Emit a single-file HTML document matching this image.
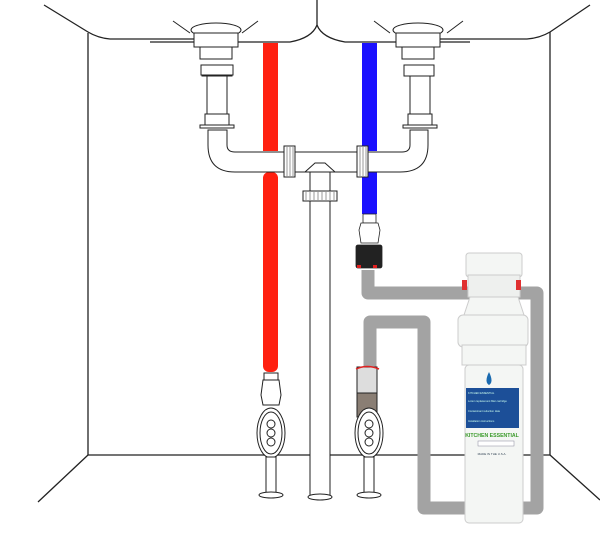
<!DOCTYPE html>
<html><head><meta charset="utf-8"><style>
html,body{margin:0;padding:0;background:#fff;}
svg{display:block;}
</style></head><body>
<svg width="600" height="553" viewBox="0 0 600 553" xmlns="http://www.w3.org/2000/svg" font-family="Liberation Sans, sans-serif">
<g fill="none" stroke="#222" stroke-width="1.3">
  <!-- cabinet -->
  <path d="M44,5 L88,32 Q98,38 110,39 L200,39"/>
  <path d="M88,33 L88,455 L550,455 L550,32"/>
  <path d="M590,5 L550,32 Q540,38 527,39 L440,39"/>
  <path d="M88,455 L38,502"/>
  <path d="M550,455 L600,500"/>
  <!-- sinks -->
  <path d="M150,42 L290,42 Q312,38 317,25 L317,0"/>
  <path d="M317,25 Q322,38 345,42 L470,42"/>
</g>
<!-- hot/cold pipes -->
<rect x="263" y="43" width="15" height="108" fill="#ff2010"/>
<rect x="263" y="172" width="15" height="200" fill="#ff2010" rx="6"/>
<rect x="362" y="43" width="15" height="108" fill="#1a10ff"/>
<rect x="362" y="172" width="15" height="42" fill="#1a10ff"/>
<!-- drains -->
<g fill="#fff" stroke="#222" stroke-width="1">
  <path d="M173,21 L190,33 M258,21 L242,33"/>
  <ellipse cx="216" cy="30" rx="25" ry="7"/>
  <rect x="194" y="33" width="44" height="14"/>
  <rect x="200" y="47" width="32" height="12"/>
  <rect x="202" y="65" width="30" height="11"/>
  <rect x="207" y="76" width="20" height="40"/>
  <rect x="205" y="114" width="24" height="12"/>
  <rect x="200" y="125" width="34" height="3"/>
  <path d="M374,21 L390,33 M463,21 L447,33"/>
  <ellipse cx="418" cy="30" rx="25" ry="7"/>
  <rect x="396" y="33" width="44" height="14"/>
  <rect x="402" y="47" width="32" height="12"/>
  <rect x="404" y="65" width="30" height="11"/>
  <rect x="410" y="76" width="20" height="40"/>
  <rect x="408" y="114" width="24" height="12"/>
  <rect x="403" y="125" width="34" height="3"/>
  <!-- trap -->
  <path d="M208,130 L208,145 Q208,172 235,172 L400,172 Q428,172 428,145 L428,130 L410,130 L410,145 Q410,152 402,152 L235,152 Q227,152 227,145 L227,130 Z"/>
  <rect x="310" y="170" width="20" height="328"/>
  <path d="M305,172 L315,163 L325,163 L335,172 Z"/>
  <rect x="303" y="191" width="34" height="10"/>
  <ellipse cx="320" cy="497" rx="12" ry="3"/>
  <rect x="284" y="146" width="11" height="31"/>
  <rect x="357" y="146" width="11" height="31"/>
  <rect x="201" y="65" width="32" height="10"/>
</g>
<g stroke="#555" stroke-width="0.6">
  <path d="M287,147V176M290,147V176M293,147V176M360,147V176M363,147V176M366,147V176M306,192V200M310,192V200M314,192V200M318,192V200M322,192V200M326,192V200M330,192V200M334,192V200"/>
</g>
<!-- grey tubing -->
<path d="M368,270 L368,293 L537,293 L537,508 L424,508 L424,322 L370,322 L370,372" fill="none" stroke="#a3a3a3" stroke-width="13" stroke-linejoin="round"/>
<!-- blue fitting -->
<g stroke="#222" stroke-width="0.8" fill="#fff">
  <rect x="363" y="214" width="13" height="9"/>
  <path d="M361,223 L378,223 L380,230 L378,243 L361,243 L359,230 Z"/>
  <rect x="356" y="245" width="26" height="23" fill="#222" rx="2"/>
</g>
<rect x="357" y="265" width="4" height="3" fill="#e02020"/><rect x="373" y="265" width="4" height="3" fill="#e02020"/>
<!-- valves -->
<g fill="#fff" stroke="#222" stroke-width="1">
  <rect x="264" y="373" width="14" height="7"/>
  <path d="M263,380 L279,380 L281,395 L279,405 L263,405 L261,395 Z"/>
  <ellipse cx="271" cy="433" rx="14" ry="25"/>
  <ellipse cx="271" cy="433" rx="11" ry="21"/>
  <circle cx="271" cy="424" r="4"/><circle cx="271" cy="433" r="4"/><circle cx="271" cy="442" r="4"/>
  <rect x="266" y="457" width="10" height="38"/>
  <ellipse cx="271" cy="495" rx="12" ry="3"/>
  <rect x="357" y="367" width="20" height="28" fill="#ddd"/>
  <rect x="357" y="393" width="20" height="24" fill="#8a7e74"/>
  <ellipse cx="369" cy="433" rx="14" ry="25"/>
  <ellipse cx="369" cy="433" rx="11" ry="21"/>
  <circle cx="369" cy="424" r="4"/><circle cx="369" cy="433" r="4"/><circle cx="369" cy="442" r="4"/>
  <rect x="364" y="457" width="10" height="38"/>
  <ellipse cx="369" cy="495" rx="12" ry="3"/>
</g>
<path d="M356,369 Q367,364 379,369" stroke="#e02020" stroke-width="1.5" fill="none"/>
<!-- filter -->
<g stroke="#ccc" stroke-width="1" fill="#f4f6f4">
  <rect x="466" y="253" width="56" height="24" rx="3"/>
  <rect x="468" y="275" width="52" height="22" fill="#eef0ee"/>
  <path d="M470,297 L518,297 L524,315 L464,315 Z"/>
  <rect x="458" y="315" width="70" height="32" rx="5"/>
  <rect x="462" y="345" width="64" height="20"/>
  <rect x="465" y="365" width="58" height="158" rx="4"/>
</g>
<rect x="462" y="280" width="5" height="10" fill="#e03030"/><rect x="516" y="280" width="5" height="10" fill="#e03030"/>
<path d="M489,372 Q484,382 489,385 Q494,382 489,372 Z" fill="#1a6ab0"/>
<rect x="466" y="388" width="53" height="40" fill="#1c4f98"/>
<g fill="#cfe" font-size="2.6"><text x="468" y="394">KITCHEN ESSENTIAL</text><text x="468" y="402">Lorem replacement filter cartridge</text><text x="468" y="412">Contaminant reduction data</text><text x="468" y="422">Installation instructions</text></g>
<text x="492" y="437" font-size="5.2" fill="#3a9a2a" text-anchor="middle" font-weight="bold">KITCHEN ESSENTIAL</text>
<rect x="478" y="441" width="36" height="5" fill="#fff" stroke="#889" stroke-width="0.5"/>
<text x="492" y="455" font-size="3" fill="#345" text-anchor="middle">MADE IN THE U.S.A.</text>
</svg>
</body></html>
